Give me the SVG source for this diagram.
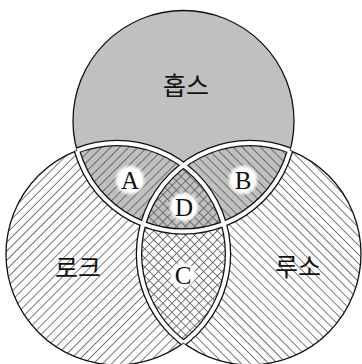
<svg xmlns="http://www.w3.org/2000/svg" width="362" height="364" viewBox="0 0 362 364">
<style>
.thin{fill:none;stroke:#111;stroke-width:1.3}
.bk{fill:none;stroke:#111;stroke-width:6.6}
.wh{fill:none;stroke:#fff;stroke-width:4}
.ko{font-family:"Noto Sans CJK KR","Noto Sans",sans-serif;font-size:25px;fill:#111;text-anchor:middle}
.lt{font-family:"Liberation Serif","DejaVu Serif",serif;font-size:25px;fill:#111;text-anchor:middle}
</style>
<defs>
<pattern id="hL" width="6.4" height="6.4" patternUnits="userSpaceOnUse" patternTransform="rotate(45)"><line x1="3.2" y1="-1" x2="3.2" y2="8" stroke="#5a5a5a" stroke-width="0.8"/></pattern>
<pattern id="hR" width="6.4" height="6.4" patternUnits="userSpaceOnUse" patternTransform="rotate(-45)"><line x1="3.2" y1="-1" x2="3.2" y2="8" stroke="#5a5a5a" stroke-width="0.8"/></pattern>
<radialGradient id="disc"><stop offset="0.75" stop-color="#fff"/><stop offset="1" stop-color="#fff" stop-opacity="0"/></radialGradient>
<clipPath id="notT"><circle cx="117" cy="254" r="111"/><circle cx="250" cy="254" r="111"/></clipPath>
<clipPath id="notL"><circle cx="183.5" cy="121" r="110.5"/><circle cx="250" cy="254" r="111"/></clipPath>
<clipPath id="notR"><circle cx="183.5" cy="121" r="110.5"/><circle cx="117" cy="254" r="111"/></clipPath>
</defs>
<rect width="362" height="364" fill="#fff"/>
<g id="fills">
<circle cx="183.5" cy="121" r="110.5" fill="#c0c0c0"/>
<circle cx="117" cy="254" r="111" fill="url(#hL)"/>
<circle cx="250" cy="254" r="111" fill="url(#hR)"/>
</g>
<g id="connectors">
<circle class="thin" cx="183.5" cy="121" r="110.5"/>
<circle class="thin" cx="117" cy="254" r="111"/>
<circle class="thin" cx="250" cy="254" r="111"/>
<circle class="bk" cx="183.5" cy="121" r="110.5" clip-path="url(#notT)"/>
<circle class="bk" cx="117" cy="254" r="111" clip-path="url(#notL)"/>
<circle class="bk" cx="250" cy="254" r="111" clip-path="url(#notR)"/>
<circle class="wh" cx="183.5" cy="121" r="110.5" clip-path="url(#notT)"/>
<circle class="wh" cx="117" cy="254" r="111" clip-path="url(#notL)"/>
<circle class="wh" cx="250" cy="254" r="111" clip-path="url(#notR)"/>
</g>
<g id="hobbes"><text class="ko" x="186" y="95">홉스</text></g>
<g id="locke"><text class="ko" x="78" y="277">로크</text></g>
<g id="rousseau"><text class="ko" x="298" y="276">루소</text></g>
<g id="A"><circle cx="130" cy="180" r="16" fill="url(#disc)"/><text class="lt" x="130" y="188.5">A</text></g>
<g id="B"><circle cx="243" cy="180" r="16" fill="url(#disc)"/><text class="lt" x="243" y="188.5">B</text></g>
<g id="D"><circle cx="184" cy="207" r="16" fill="url(#disc)"/><text class="lt" x="184" y="215.5">D</text></g>
<g id="C"><circle cx="183" cy="275" r="14" fill="url(#disc)"/><text class="lt" x="183" y="283.5">C</text></g>
</svg>
